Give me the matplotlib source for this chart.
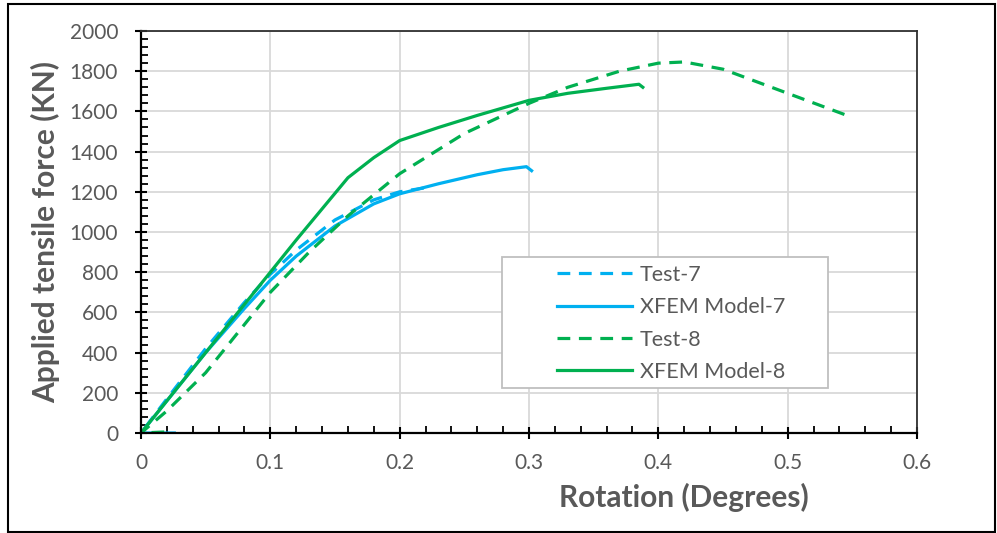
import numpy as np
import matplotlib.pyplot as plt
from matplotlib.patches import Rectangle
from matplotlib.ticker import MultipleLocator, FuncFormatter

plt.rcParams['font.family'] = ['Lato', 'DejaVu Sans']

# data
test7_x = [0.027, 0.0, 0.02, 0.05, 0.08, 0.1, 0.12, 0.15, 0.18, 0.2, 0.22]
test7_y = [0, 0, 170, 420, 650, 790, 910, 1060, 1160, 1200, 1220]

model7_x = [0.0, 0.02, 0.05, 0.08, 0.1, 0.12, 0.15, 0.18, 0.2, 0.23, 0.26, 0.28, 0.298, 0.302]
model7_y = [0, 160, 400, 620, 760, 880, 1030, 1140, 1190, 1240, 1285, 1310, 1325, 1305]

test8_x = [0.018, 0.0, 0.02, 0.05, 0.08, 0.1, 0.13, 0.16, 0.2, 0.25, 0.3, 0.33, 0.37, 0.4, 0.42, 0.45, 0.5, 0.55]
test8_y = [5, 0, 110, 300, 540, 700, 900, 1080, 1290, 1490, 1640, 1720, 1800, 1840, 1846, 1810, 1690, 1570]

model8_x = [0.0, 0.04, 0.08, 0.12, 0.16, 0.18, 0.2, 0.23, 0.26, 0.3, 0.33, 0.36, 0.385, 0.388]
model8_y = [0, 320, 640, 960, 1270, 1370, 1455, 1520, 1580, 1655, 1690, 1715, 1735, 1720]

blue = '#00B0F0'
green = '#00B050'
grey_text = '#595959'

fig = plt.figure(figsize=(9.97, 5.33), dpi=100)
ax = fig.add_axes([141 / 997, 1 - 433 / 533, 776 / 997, 402 / 533])

lw = 2.3
ax.plot(test7_x, test7_y, color=blue, lw=lw, dashes=(4, 2.7), label='Test-7')
ax.plot(model7_x, model7_y, color=blue, lw=lw, label='XFEM Model-7')
ax.plot(test8_x, test8_y, color=green, lw=lw, dashes=(4, 2.7), label='Test-8')
ax.plot(model8_x, model8_y, color=green, lw=lw, label='XFEM Model-8')

ax.set_xlim(0, 0.6)
ax.set_ylim(0, 2000)
ax.xaxis.set_major_locator(MultipleLocator(0.1))
ax.xaxis.set_minor_locator(MultipleLocator(0.02))
ax.yaxis.set_major_locator(MultipleLocator(200))
ax.yaxis.set_minor_locator(MultipleLocator(40))
ax.xaxis.set_major_formatter(FuncFormatter(lambda v, p: f'{v:g}'))

ax.tick_params(which='major', direction='inout', length=9, width=1.5, color='black',
               labelsize=15, labelcolor=grey_text)
ax.tick_params(which='minor', direction='in', length=5, width=1.3, color='black')
ax.tick_params(axis='x', which='major', pad=10)
ax.tick_params(axis='y', which='major', pad=12)

ax.grid(which='major', color='#D9D9D9', lw=1.3)
ax.set_axisbelow(True)
for side in ['left', 'bottom']:
    ax.spines[side].set_linewidth(1.6)
    ax.spines[side].set_color('black')
for side in ['top', 'right']:
    ax.spines[side].set_linewidth(1.3)
    ax.spines[side].set_color('#303030')

# x label sits right of centre in the reference
ax.set_xlabel('Rotation (Degrees)', fontsize=21.5, fontweight='bold', color=grey_text,
              labelpad=7, x=0.70, ha='center')
ax.set_ylabel('Applied tensile force (KN)', fontsize=21.5, fontweight='bold', color=grey_text, labelpad=7)

# legend frame drawn separately, entries placed inside it
ax.add_patch(Rectangle((0.465, 0.112), 0.42, 0.326, transform=ax.transAxes, fill=True,
                       facecolor='white', edgecolor='#BFBFBF', lw=1.3, zorder=4))
leg = ax.legend(loc='upper left', bbox_to_anchor=(0.536, 0.418), fontsize=15.5,
                handlelength=3.5, handletextpad=0.35, labelspacing=0.57,
                borderpad=0, borderaxespad=0, frameon=False)
leg.set_zorder(5)
for t in leg.get_texts():
    t.set_color(grey_text)

fig.patches.append(Rectangle((8 / 997, 1 / 533), 987 / 997, 528 / 533, transform=fig.transFigure,
                             fill=False, edgecolor='black', lw=1.5))

fig.savefig('out.png', dpi=100)
